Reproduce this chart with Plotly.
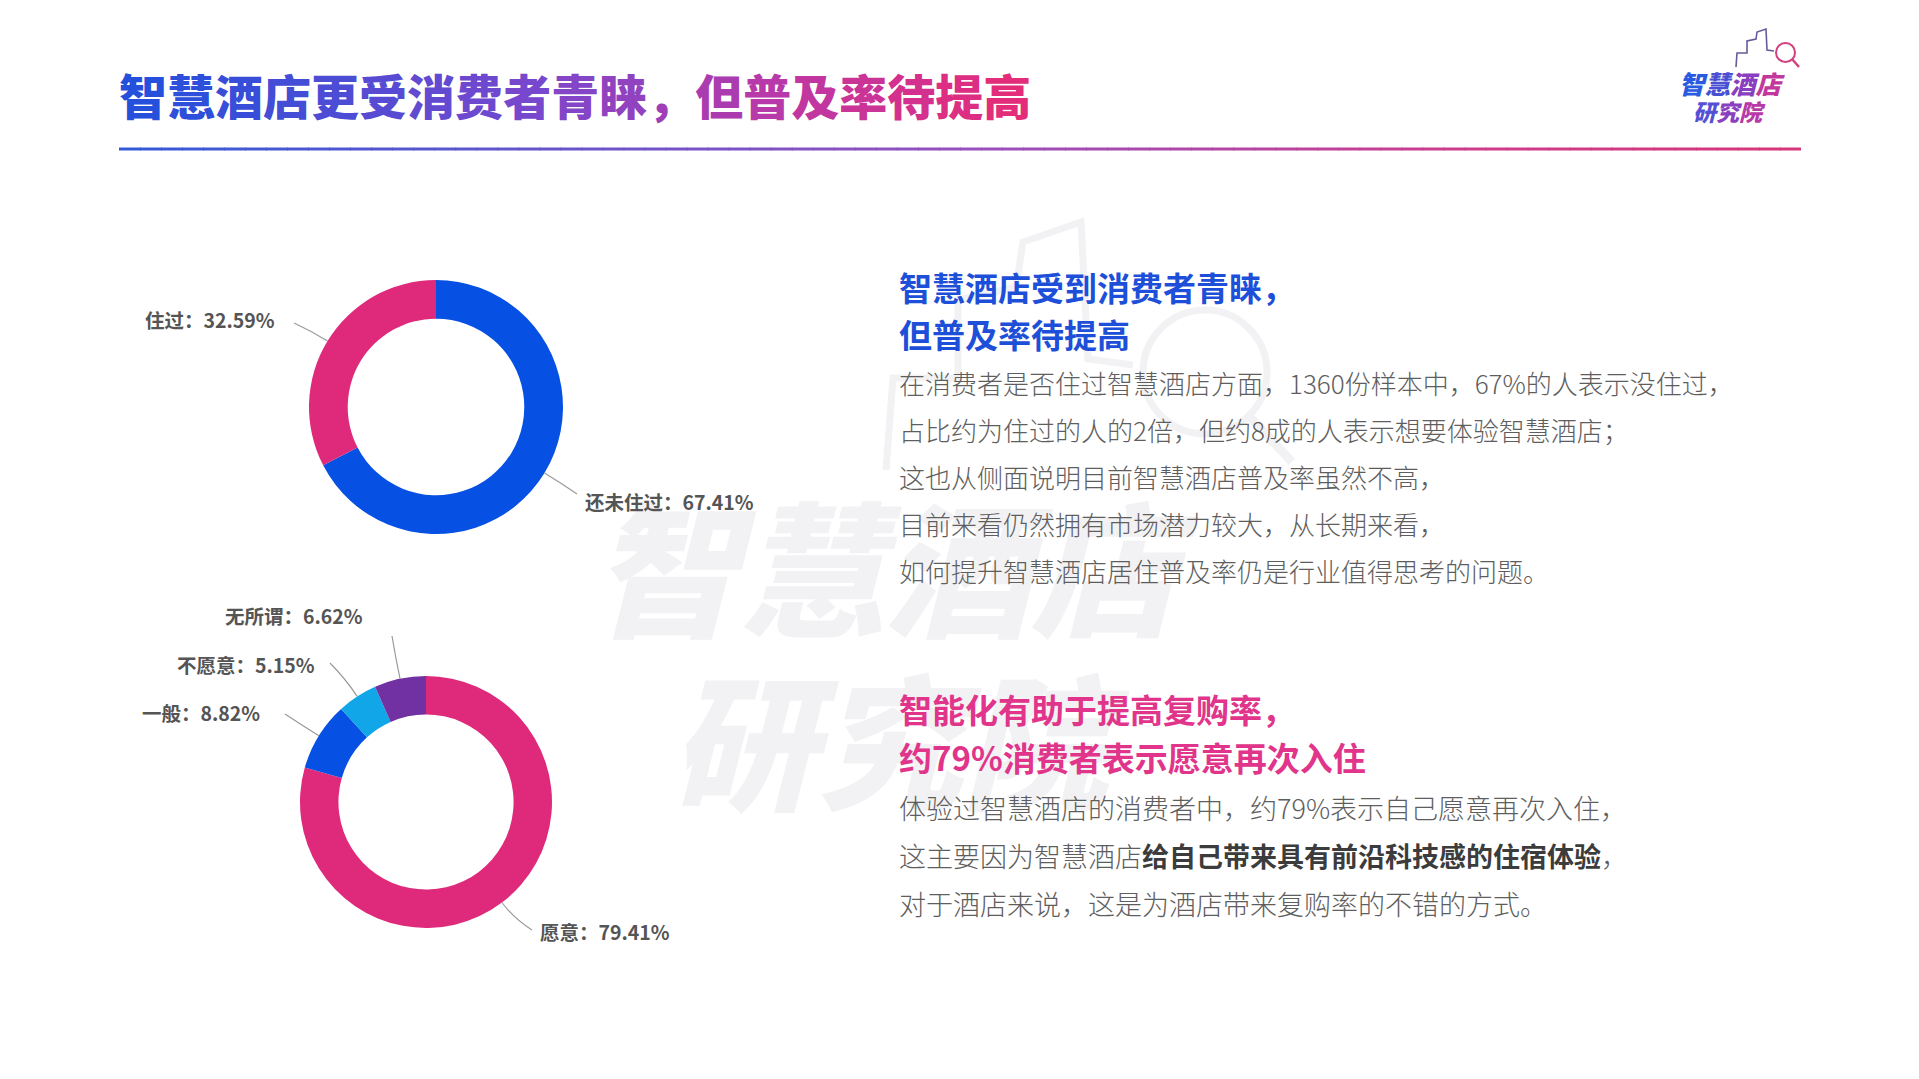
import numpy as np
import plotly.graph_objects as go

W, H = 1919, 1079
FONT = "Noto Sans CJK SC, Microsoft YaHei, sans-serif"

# ---------------- data ----------------
stay_labels = ["还未住过", "住过"]
stay_values = [67.41, 32.59]
stay_colors = ["#0651e3", "#df2a7c"]

again_labels = ["愿意", "一般", "不愿意", "无所谓"]
again_values = [79.41, 8.82, 5.15, 6.62]
again_colors = ["#df2a7c", "#0651e3", "#10a6e8", "#7131a3"]

title_text = "智慧酒店更受消费者青睐，但普及率待提高"
h1_lines = ["智慧酒店受到消费者青睐，", "但普及率待提高"]
p1_lines = [
    "在消费者是否住过智慧酒店方面，1360份样本中，67%的人表示没住过，",
    "占比约为住过的人的2倍，但约8成的人表示想要体验智慧酒店；",
    "这也从侧面说明目前智慧酒店普及率虽然不高，",
    "目前来看仍然拥有市场潜力较大，从长期来看，",
    "如何提升智慧酒店居住普及率仍是行业值得思考的问题。",
]
h2_lines = ["智能化有助于提高复购率，", "约79%消费者表示愿意再次入住"]
p2_plain = [
    "体验过智慧酒店的消费者中，约79%表示自己愿意再次入住，",
    "这主要因为智慧酒店",
    "对于酒店来说，这是为酒店带来复购率的不错的方式。",
]
p2_bold = "给自己带来具有前沿科技感的住宿体验"
logo_line1 = "智慧酒店"
logo_line2 = "研究院"

# ---------------- layout constants (pixels) ----------------
DONUT1 = dict(cx=436, cy=407, r=127)
DONUT2 = dict(cx=426, cy=802, r=126)
HOLE = 0.695
# label text anchor (x, y, side) and leader end point
LABEL_LAYOUT = {
    "还未住过": dict(tx=583, ty=501, side="left", ex=577, ey=494),
    "住过": dict(tx=277, ty=319, side="right", ex=294, ey=323),
    "愿意": dict(tx=538, ty=931, side="left", ex=532, ey=930),
    "一般": dict(tx=262, ty=712, side="right", ex=285, ey=714),
    "不愿意": dict(tx=317, ty=664, side="right", ex=330, ey=663),
    "无所谓": dict(tx=365, ty=615, side="right", ex=392, ey=636),
}


def lerp_color(stops, t):
    for (t0, c0), (t1, c1) in zip(stops[:-1], stops[1:]):
        if t <= t1:
            u = 0 if t1 == t0 else (t - t0) / (t1 - t0)
            c = [round(a + (b - a) * u) for a, b in zip(c0, c1)]
            return "rgb(%d,%d,%d)" % tuple(c)
    return "rgb(%d,%d,%d)" % tuple(stops[-1][1])


TITLE_STOPS = [(0, (36, 80, 220)), (0.45, (120, 72, 205)), (0.75, (190, 55, 165)), (1, (228, 45, 122))]
LINE_STOPS = [(0, (52, 90, 215)), (0.5, (150, 80, 190)), (0.8, (205, 60, 140)), (1, (214, 55, 120))]


def pie_domain(d):
    return dict(
        x=[(d["cx"] - d["r"]) / W, (d["cx"] + d["r"]) / W],
        y=[1 - (d["cy"] + d["r"]) / H, 1 - (d["cy"] - d["r"]) / H],
    )


fig = go.Figure()
# invisible pixel-space overlay axis
fig.add_trace(go.Scatter(x=[0, W], y=[0, H], mode="markers", marker=dict(opacity=0),
                         hoverinfo="skip", showlegend=False))

for labels, values, colors, d in [
    (stay_labels, stay_values, stay_colors, DONUT1),
    (again_labels, again_values, again_colors, DONUT2),
]:
    fig.add_trace(go.Pie(
        labels=labels, values=values, hole=HOLE, sort=False, direction="clockwise",
        rotation=0, marker=dict(colors=colors, line=dict(width=0)), textinfo="none",
        hovertemplate="%{label}：%{value:.2f}%<extra></extra>", domain=pie_domain(d),
        showlegend=False,
    ))

shapes = []
annotations = []

# ---------------- watermark (faint) ----------------
WM = "#f2f2f4"
mag_c = (1205, 372)
mag_r = 62
shapes.append(dict(type="circle", xref="x", yref="y", x0=mag_c[0] - mag_r, x1=mag_c[0] + mag_r,
                   y0=mag_c[1] - mag_r, y1=mag_c[1] + mag_r, line=dict(color=WM, width=7), layer="below"))
shapes.append(dict(type="line", xref="x", yref="y", x0=1250, y0=417, x1=1292, y1=462,
                   line=dict(color=WM, width=9), layer="below"))
sky = [(886, 470), (893, 378), (958, 378), (958, 300), (1016, 287), (1023, 242), (1081, 222),
       (1088, 359), (1133, 365)]
shapes.append(dict(type="path", xref="x", yref="y",
                   path="M " + " L ".join(f"{x},{y}" for x, y in sky),
                   line=dict(color=WM, width=7), layer="below"))
annotations.append(dict(x=590, y=562, xref="x", yref="y", xanchor="left", yanchor="middle",
                        text=logo_line1, showarrow=False,
                        font=dict(family=FONT, size=146, color=WM, weight=900, style="italic")))
annotations.append(dict(x=668, y=735, xref="x", yref="y", xanchor="left", yanchor="middle",
                        text=logo_line2, showarrow=False,
                        font=dict(family=FONT, size=146, color=WM, weight=900, style="italic")))

# ---------------- title ----------------
n = len(title_text)
title_html = "".join(
    f"<span style='color:{lerp_color(TITLE_STOPS, i / (n - 1))}'>{ch}</span>" for i, ch in enumerate(title_text)
)
annotations.append(dict(x=117, y=94, xref="x", yref="y", xanchor="left", yanchor="middle",
                        text=title_html, showarrow=False,
                        font=dict(family=FONT, size=48, weight=900)))
# gradient underline
x_start, x_end, y_line = 119, 1801, 149
nseg = 80
for i in range(nseg):
    xa = x_start + (x_end - x_start) * i / nseg
    xb = x_start + (x_end - x_start) * (i + 1) / nseg + 0.8
    shapes.append(dict(type="line", xref="x", yref="y", x0=xa, x1=min(xb, x_end), y0=y_line, y1=y_line,
                       line=dict(color=lerp_color(LINE_STOPS, (i + 0.5) / nseg), width=3)))

# ---------------- logo ----------------
logo_sky = [(1736, 67), (1737, 53), (1747, 53), (1747, 41), (1756, 39), (1757, 32), (1766, 29),
            (1767, 50), (1774, 51)]
shapes.append(dict(type="path", xref="x", yref="y",
                   path="M " + " L ".join(f"{x},{y}" for x, y in logo_sky),
                   line=dict(color="#6a5a9a", width=1.6)))
shapes.append(dict(type="circle", xref="x", yref="y", x0=1776, x1=1795, y0=43, y1=62,
                   line=dict(color="#d2407e", width=2)))
shapes.append(dict(type="line", xref="x", yref="y", x0=1792, y0=59, x1=1799, y1=67,
                   line=dict(color="#d2407e", width=2.4)))
logo_c1 = ["#2a5ae0", "#4a50d2", "#8a3fc0", "#c2389c"]
logo_c2 = ["#5550d4", "#8a3fc0", "#b83aa6"]
annotations.append(dict(x=1677, y=82, xref="x", yref="y", xanchor="left", yanchor="middle", showarrow=False,
                        text="".join(f"<span style='color:{c}'>{ch}</span>" for ch, c in zip(logo_line1, logo_c1)),
                        font=dict(family=FONT, size=25.5, weight=900, style="italic")))
annotations.append(dict(x=1691, y=111, xref="x", yref="y", xanchor="left", yanchor="middle", showarrow=False,
                        text="".join(f"<span style='color:{c}'>{ch}</span>" for ch, c in zip(logo_line2, logo_c2)),
                        font=dict(family=FONT, size=23, weight=900, style="italic")))

# ---------------- donut labels & leader lines ----------------
for labels, values, d in [(stay_labels, stay_values, DONUT1), (again_labels, again_values, DONUT2)]:
    tot = float(sum(values))
    cum = 0.0
    for lab, v in zip(labels, values):
        a = (cum + v / 2) / tot * 2 * np.pi
        cum += v
        dx, dy = np.sin(a), -np.cos(a)
        x0, y0 = d["cx"] + d["r"] * dx, d["cy"] + d["r"] * dy
        x1, y1 = d["cx"] + (d["r"] + 20) * dx, d["cy"] + (d["r"] + 20) * dy
        L = LABEL_LAYOUT[lab]
        shapes.append(dict(type="path", xref="x", yref="y",
                           path=f"M {x0:.1f},{y0:.1f} Q {x1:.1f},{y1:.1f} {L['ex']},{L['ey']}",
                           line=dict(color="#9a9a9a", width=1.2)))
        annotations.append(dict(x=L["tx"], y=L["ty"], xref="x", yref="y",
                                xanchor="left" if L["side"] == "left" else "right", yanchor="middle",
                                text=f"{lab}：{v:.2f}%", showarrow=False,
                                font=dict(family=FONT, size=19.5, color="#555555", weight=700)))

# ---------------- right-hand text ----------------
TX = 897
for txt, y in zip(h1_lines, [286.5, 333.5]):
    annotations.append(dict(x=TX, y=y, xref="x", yref="y", xanchor="left", yanchor="middle", text=txt,
                            showarrow=False, font=dict(family=FONT, size=33, color="#1d4fd8", weight=700)))
for txt, y in zip(p1_lines, [382.5, 429.5, 476.5, 523.5, 570.5]):
    annotations.append(dict(x=TX, y=y, xref="x", yref="y", xanchor="left", yanchor="middle", text=txt,
                            showarrow=False, font=dict(family=FONT, size=26, color="#5e5e5e", weight=300)))
for txt, y in zip(h2_lines, [708.5, 756.5]):
    annotations.append(dict(x=TX, y=y, xref="x", yref="y", xanchor="left", yanchor="middle", text=txt,
                            showarrow=False, font=dict(family=FONT, size=33, color="#e0358a", weight=700)))
p2_html = [
    p2_plain[0],
    p2_plain[1] + f"<span style='color:#3c3c3c'><b>{p2_bold}</b></span>，",
    p2_plain[2],
]
for txt, y in zip(p2_html, [807.5, 855.5, 903.5]):
    annotations.append(dict(x=TX, y=y, xref="x", yref="y", xanchor="left", yanchor="middle", text=txt,
                            showarrow=False, font=dict(family=FONT, size=27, color="#5e5e5e", weight=300)))

fig.update_layout(
    width=W, height=H, margin=dict(l=0, r=0, t=0, b=0),
    paper_bgcolor="white", plot_bgcolor="white",
    xaxis=dict(range=[0, W], visible=False, fixedrange=True, domain=[0, 1]),
    yaxis=dict(range=[H, 0], visible=False, fixedrange=True, domain=[0, 1]),
    shapes=shapes, annotations=annotations, showlegend=False,
    font=dict(family=FONT),
)

fig.write_html("out.html", config={"displayModeBar": False},
               post_script="document.body.style.margin='0';document.body.style.overflow='hidden';")
